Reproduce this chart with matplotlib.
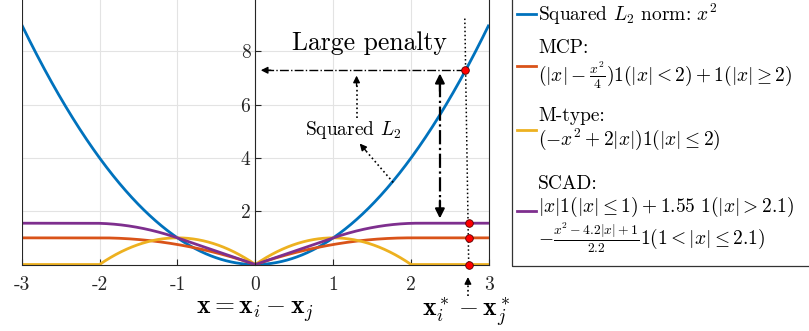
import numpy as np
import matplotlib
matplotlib.use('Agg')
import matplotlib.pyplot as plt
from matplotlib.patches import Rectangle

plt.rcParams['font.family'] = 'serif'
plt.rcParams['font.serif'] = ['cmr10']
plt.rcParams['mathtext.fontset'] = 'cm'
plt.rcParams['axes.unicode_minus'] = False

# penalty parameters (from the legend formulas)
mcp_a = 2.0
mtype_a = 2.0
scad_lo, scad_hi, scad_cap, scad_b, scad_c = 1.0, 2.1, 1.55, 4.2, 2.2

x_ticks = [-3, -2, -1, 0, 1, 2, 3]
x_tick_labels = ['-3', '-2', '-1', '0', '1', '2', '3']
y_ticks = [2, 4, 6, 8]
y_tick_labels = ['2', '4', '6', '8']

# the marked point x* and the values read at it
x_star_top = 2.69
x_star_bot = 2.74
star_vals = [7.29, 1.55, 1.0, 0.0]

legend_names = ['Squared $L_2$ norm: $x^2$', 'MCP:', 'M-type:', 'SCAD:']
legend_formulas = ['',
                   r'$(|x|-\frac{x^2}{4})\mathbf{1}(|x|<2)+\mathbf{1}(|x|\geq 2)$',
                   r'$(-x^2+2|x|)\mathbf{1}(|x|\leq 2)$',
                   r'$|x|\mathbf{1}(|x|\leq 1)+1.55\ \mathbf{1}(|x|>2.1)$']
scad_second = r'$-\frac{x^2-4.2|x|+1}{2.2}\mathbf{1}(1<|x|\leq 2.1)$'
colors = ['#0072BD', '#D95319', '#EDB120', '#7E2F8E']

x = np.linspace(-3, 3, 1201)
ax_ = np.abs(x)
l2 = x ** 2
mcp = np.where(ax_ < mcp_a, ax_ - x ** 2 / 4, 1.0)
mtype = np.where(ax_ <= mtype_a, -x ** 2 + 2 * ax_, 0.0)
scad = np.where(ax_ <= scad_lo, ax_,
                np.where(ax_ <= scad_hi, -(x ** 2 - scad_b * ax_ + 1) / scad_c, scad_cap))

fig = plt.figure(figsize=(8.09, 3.31), dpi=100)
ax = fig.add_axes([0.0268, 0.2009, 0.5776, 0.805])

for c, yv in zip(colors, [l2, mcp, mtype, scad]):
    ax.plot(x, yv, color=c, lw=2.0, solid_capstyle='butt')

ax.set_xlim(-3, 3)
ax.set_ylim(0, 10)
ax.spines['left'].set_position(('data', 0))
ax.spines['top'].set_visible(False)
ax.grid(True, color='#e3e3e3', lw=0.8)
ax.set_axisbelow(True)
ax.set_xticks(x_ticks)
ax.set_xticklabels(x_tick_labels)
ax.set_yticks(y_ticks)
ax.set_yticklabels(y_tick_labels)
for s in ['left', 'bottom', 'right']:
    ax.spines[s].set_color('#262626')
    ax.spines[s].set_linewidth(0.8)
ax.axvline(-3, color='#262626', lw=0.8)
ax.tick_params(axis='y', direction='in', length=4, pad=3.5, colors='#262626', labelsize=14)
ax.tick_params(axis='x', direction='in', length=4, pad=8, colors='#262626', labelsize=14)

ax.text(0.0, -1.78, r'$\mathbf{x} = \mathbf{x}_i - \mathbf{x}_j$', fontsize=18.5,
        ha='center', va='center', clip_on=False)
ax.text(2.71, -1.78, r'$\mathbf{x}_i^* - \mathbf{x}_j^*$', fontsize=18.5,
        ha='center', va='center', clip_on=False)

# annotations
ax.text(1.47, 8.3, 'Large penalty', fontsize=18.5, ha='center', va='center')
ax.text(1.25, 5.03, 'Squared $L_2$', fontsize=14, ha='center', va='center')

ax.plot([x_star_top, x_star_bot], [9.23, 0], color='k', ls=':', lw=1.1, clip_on=False)

head = dict(arrowstyle='-|>', color='k', lw=1, mutation_scale=10, shrinkA=0, shrinkB=0)
# horizontal dash-dot arrow
ax.plot([x_star_top, 0.12], [star_vals[0], star_vals[0]], color='k', ls='-.', lw=1)
ax.annotate('', xy=(0.07, star_vals[0]), xytext=(0.2, star_vals[0]), arrowprops=head)
# arrow up to horizontal line
ax.plot([1.30, 1.30], [5.48, 6.9], color='k', ls=':', lw=1.2)
ax.annotate('', xy=(1.30, 7.09), xytext=(1.30, 6.7), arrowprops=head)
# arrow from curve to label
ax.plot([1.77, 1.38], [3.08, 4.4], color='k', ls=':', lw=1.2)
ax.annotate('', xy=(1.34, 4.54), xytext=(1.42, 4.27), arrowprops=head)
# double arrow
bighead = dict(arrowstyle='-|>', color='k', lw=1.5, mutation_scale=14, shrinkA=0, shrinkB=0)
ax.plot([2.37, 2.37], [6.8, 2.1], color='k', ls='-.', lw=1.6)
ax.annotate('', xy=(2.37, 7.17), xytext=(2.37, 6.5), arrowprops=bighead)
ax.annotate('', xy=(2.37, 1.73), xytext=(2.37, 2.4), arrowprops=bighead)
# arrow from below
ax.plot([2.73, 2.73], [-1.2, -0.6], color='k', ls=':', lw=1.2, clip_on=False)
ax.annotate('', xy=(2.73, -0.47), xytext=(2.73, -0.75), arrowprops=head,
            annotation_clip=False)

ax.plot([x_star_top], [star_vals[0]], 'o', color='red', mec='#550000', mew=0.6, ms=5.5, zorder=5)
ax.plot([x_star_bot] * 3, star_vals[1:], 'o', color='red', mec='#550000', mew=0.6, ms=5.5,
        zorder=5, clip_on=False)

# legend box
fig.patches.append(Rectangle((512 / 809, 65 / 331), 0.4, 0.9, transform=fig.transFigure,
                             fill=False, edgecolor='#333333', lw=0.9))
W, H = 809, 331
line_y = [14, 66, 130, 211]
name_y = [14, 48, 116, 184]
form_y = [None, 75, 139, 207]
for i in range(4):
    fig.add_artist(plt.Line2D([517 / W, 536 / W], [1 - line_y[i] / H] * 2,
                              color=colors[i], lw=2))
    fig.text(538 / W, 1 - name_y[i] / H, legend_names[i], fontsize=14, va='center')
    if form_y[i] is not None:
        fig.text(538 / W, 1 - form_y[i] / H, legend_formulas[i], fontsize=14, va='center')
fig.text(538 / W, 1 - 238 / H, scad_second, fontsize=14, va='center')

fig.savefig('out.png', dpi=100)
